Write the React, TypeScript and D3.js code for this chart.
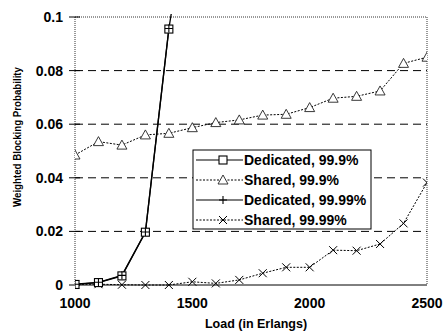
import React from "react";
import * as d3 from "d3";

// loads in Erlangs
const loads = [1000, 1100, 1200, 1300, 1400, 1500, 1600, 1700, 1800, 1900, 2000, 2100, 2200, 2300, 2400, 2500];

const dedicated999 = [0.0002, 0.0009, 0.0034, 0.0197, 0.0955];
const shared999 = [0.0485, 0.0535, 0.0522, 0.056, 0.0566, 0.0587, 0.0606, 0.0616, 0.0634, 0.0637, 0.0662, 0.0697, 0.0704, 0.0724, 0.0827, 0.085];
const dedicated9999 = [0.0003, 0.001, 0.0036, 0.0198, 0.0957, 0.15];
const shared9999 = [0.0002, 0.0003, 0.0001, 0, 0, 0.0012, 0.0006, 0.0019, 0.0044, 0.0066, 0.0066, 0.013, 0.0128, 0.0153, 0.023, 0.0382];

const yTicks = [0, 0.02, 0.04, 0.06, 0.08, 0.1];
const xTicks = [1000, 1500, 2000, 2500];

const legendItems = [
  { label: "Dedicated, 99.9%", marker: "square", dash: null },
  { label: "Shared, 99.9%", marker: "triangle", dash: "2,1.5" },
  { label: "Dedicated, 99.99%", marker: "plus", dash: null },
  { label: "Shared, 99.99%", marker: "cross", dash: "2,1.5" },
];

const W = 443;
const H = 331;
const margin = { top: 17, right: 16, bottom: 46, left: 75 };

const x = d3.scaleLinear().domain([1000, 2500]).range([margin.left, W - margin.right]);
const y = d3.scaleLinear().domain([0, 0.1]).range([H - margin.bottom, margin.top]);

const toPts = (vals: number[]) => vals.map((v, i) => [loads[i], v] as [number, number]);
const line = d3.line<[number, number]>().x(d => x(d[0])).y(d => y(d[1]));

const Marker = ({ kind, cx, cy }: { kind: string; cx: number; cy: number }) => {
  const s = 4;
  if (kind === "square")
    return <rect x={cx - s} y={cy - s} width={2 * s} height={2 * s} fill="white" stroke="#000" strokeWidth={1.1} />;
  if (kind === "triangle")
    return (
      <path
        d={`M${cx},${cy - 5} L${cx + 5},${cy + 4} L${cx - 5},${cy + 4} Z`}
        fill="white"
        stroke="#222"
        strokeWidth={0.9}
      />
    );
  if (kind === "plus")
    return <path d={`M${cx - s},${cy} H${cx + s} M${cx},${cy - s} V${cy + s}`} stroke="#000" strokeWidth={1.1} />;
  return (
    <path
      d={`M${cx - s},${cy - s} L${cx + s},${cy + s} M${cx - s},${cy + s} L${cx + s},${cy - s}`}
      stroke="#000"
      strokeWidth={1}
    />
  );
};

export default function App() {
  const x0 = margin.left;
  const x1 = W - margin.right;
  const y0 = H - margin.bottom;
  const y1 = margin.top;

  const lx = 193, ly = 150, lw = 178, lh = 79;

  return (
    <svg width={W} height={H} style={{ position: "absolute", left: 0, top: 0, background: "#fff" }}
      fontFamily="'Liberation Sans', Arial, sans-serif">
      <defs>
        <clipPath id="plot">
          <rect x={x0} y={y1 - 3} width={x1 - x0} height={y0 - y1 + 10} />
        </clipPath>
      </defs>

      {/* grid */}
      {yTicks.filter(t => t > 0 && t < 0.1).map(t => (
        <line key={t} x1={x0} x2={x1} y1={y(t)} y2={y(t)} stroke="#000" strokeWidth={1} strokeDasharray="8,5" />
      ))}

      {/* frame */}
      <line x1={x0} x2={x1} y1={y1} y2={y1} stroke="#333" strokeWidth={1} strokeDasharray="1,1" />
      <line x1={x1} x2={x1} y1={y1} y2={y0} stroke="#333" strokeWidth={1} strokeDasharray="1,1" />
      <line x1={x0} x2={x0} y1={y1} y2={y0} stroke="#333" strokeWidth={1} strokeDasharray="1,1" />
      <line x1={x0} x2={x1} y1={y0} y2={y0} stroke="#000" strokeWidth={1} />

      {/* y ticks */}
      {yTicks.map(t => (
        <g key={t}>
          <line x1={x0 - 6} x2={x0 + 5} y1={y(t)} y2={y(t)} stroke="#000" />
          <text x={63} y={y(t)} dy="0.35em" textAnchor="end" fontSize={14} fontWeight="bold">
            {d3.format("~g")(t)}
          </text>
        </g>
      ))}

      {/* x ticks */}
      {xTicks.map(t => (
        <text key={t} x={x(t)} y={308} textAnchor="middle" fontSize={14} fontWeight="bold">{t}</text>
      ))}

      <text x={256} y={328} textAnchor="middle" fontSize={12.5} fontWeight="bold">Load (in Erlangs)</text>
      <text transform={`translate(21,137) rotate(-90)`} textAnchor="middle" fontSize={11} textLength={140}
        lengthAdjust="spacingAndGlyphs" fontWeight="bold">
        Weighted Blocking Probability
      </text>

      {/* series */}
      <g clipPath="url(#plot)">
        <path d={line(toPts(shared9999)) || ""} fill="none" stroke="#000" strokeWidth={1} strokeDasharray="2,1.5" />
        <path d={line(toPts(shared999)) || ""} fill="none" stroke="#000" strokeWidth={1} strokeDasharray="2,1.5" />
        <path d={line(toPts(dedicated9999)) || ""} fill="none" stroke="#000" strokeWidth={1.3} />
        <path d={line(toPts(dedicated999)) || ""} fill="none" stroke="#000" strokeWidth={1.3} />
        {shared999.map((v, i) => <Marker key={"t" + i} kind="triangle" cx={x(loads[i])} cy={y(v)} />)}
        {shared9999.map((v, i) => <Marker key={"c" + i} kind="cross" cx={x(loads[i])} cy={y(v)} />)}
        {dedicated999.map((v, i) => <Marker key={"s" + i} kind="square" cx={x(loads[i])} cy={y(v)} />)}
        {dedicated9999.map((v, i) => <Marker key={"p" + i} kind="plus" cx={x(loads[i])} cy={y(v)} />)}
      </g>

      {/* legend */}
      <rect x={lx} y={ly} width={lw} height={lh} fill="#fff" stroke="#000" strokeWidth={1} />
      {legendItems.map((d, i) => {
        const cy = ly + 10 + i * 20;
        return (
          <g key={d.label}>
            <line x1={lx + 3} x2={lx + 50} y1={cy} y2={cy} stroke="#000" strokeWidth={d.dash ? 1 : 1.2}
              strokeDasharray={d.dash || undefined} />
            <Marker kind={d.marker} cx={lx + 30} cy={cy} />
            <text x={lx + 51} y={cy} dy="0.35em" fontSize={14} fontWeight="bold">{d.label}</text>
          </g>
        );
      })}
    </svg>
  );
}
